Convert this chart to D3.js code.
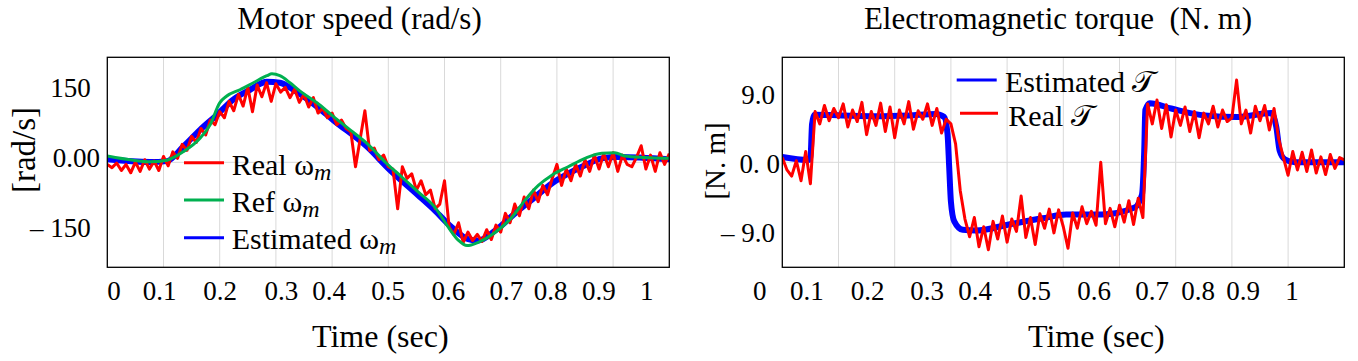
<!DOCTYPE html>
<html>
<head>
<meta charset="utf-8">
<script src="https://cdn.jsdelivr.net/npm/d3@7"></script>
<style>
  body { margin: 0; background: #fff; }
  svg text { font-family: "Liberation Serif", "Times New Roman", serif; fill: #000; white-space: pre; }
</style>
</head>
<body>
<svg id="chart" width="1358" height="361"></svg>
<script>
// ---- data (time is normalised to the plot frame) ----
const xTickLabels = ["0", "0.1", "0.2", "0.3", "0.4", "0.5", "0.6", "0.7", "0.8", "0.9", "1"];
const speedTickAt = [0.011, 0.092, 0.200, 0.309, 0.394, 0.499, 0.606, 0.709, 0.788, 0.874, 0.959];
const torqueTickAt = [-0.041, 0.043, 0.151, 0.257, 0.342, 0.447, 0.554, 0.657, 0.739, 0.819, 0.906];

const speedYTicks = [150, 0, -150];
const speedYLabels = ["150", "0.00", "\u2013 150"];
const torqueYTicks = [9, 0, -9];
const torqueYLabels = ["9.0", "0. 0", "\u2013 9.0"];

// reference speed (green)
const speedRefTime = [0, .046, .076, .106, .135, .165, .183, .2, .212, .236, .26, .284, .293, .307, .325, .343, .373, .402, .432, .462,
  .497, .524, .553, .583, .607, .625, .640, .660, .690, .720, .743, .767, .791, .820, .850, .880, .903, .921, .957, 1];
const speedRef = [3, -6, -9.5, -6, 12, 41, 70, 117, 131, 145, 160, 175, 179, 175, 160, 142, 117, 88, 59, 30,
  -13, -42, -74, -107, -150, -178, -189, -182, -161, -128, -92, -60, -38, -20, -2, 9, 10, 3, 0, -2];

// estimated speed (blue)
const speedEstTime = [0, .076, .106, .135, .165, .195, .224, .254, .284, .307, .331, .373, .402, .462, .503, .553, .583, .613, .642, .660,
  .690, .731, .761, .791, .820, .850, .880, .909, 1];
const speedEst = [-4, -10, -8, 23, 59, 91, 124, 145, 162, 160, 145, 109, 80, 23, -27, -81, -114, -150, -175, -178,
  -157, -114, -85, -56, -35, -17, -2, 1, -4];

// real speed (red), evenly sampled over the frame
const speedReal = [
  -15, -22, -12, -28, -15, -33, -10, -30, -5, -25,
  -8, -28, 2, -18, 12, -2, 28, 15, 45, 32,
  62, 48, 80, 70, 98, 85, 120, 100, 135, 110,
  150, 98, 155, 130, 160, 120, 158, 140, 150, 128,
  146, 118, 135, 108, 128, 95, 105, 85, 95, 70,
  80, 62, 55, -20, 40, 100, 15, 20, -5, 5,
  -20, -25, -110, -20, -45, -35, -70, -50, -80, -70,
  -110, -100, -50, -150, -165, -140, -182, -160, -178, -165,
  -180, -155, -176, -145, -160, -120, -140, -100, -125, -85,
  -110, -70, -95, -60, -80, -45, -15, -60, -25, -50,
  -15, -40, -5, -30, 5, -25, 8, -20, 10, -30,
  5, -15, -20, 0, 25, -25, 5, -30, 10, -15,
  8];

// estimated torque (blue)
const torqueEstTime = [0, .046, .05, .053, .058, .106, .166, .225, .273, .288, .294, .297, .3, .306, .321, .344, .403, .463, .505, .568,
  .627, .64, .644, .646, .654, .692, .752, .811, .87, .879, .885, .894, .912, 1];
const torqueEst = [0.9, 0.5, 0.6, 5.2, 6.4, 6.3, 6.2, 6.3, 6.5, 6.1, 3.9, -0.5, -4.9, -7.5, -8.6, -8.7, -7.9, -7.1, -6.6, -6.6,
  -5.7, -4.0, 1.7, 7.0, 7.9, 7.2, 6.3, 6.1, 6.6, 4.8, 1.7, 0.6, 0.2, 0.2];

// real torque (red), evenly sampled over the frame
const torqueReal = [
  0.8, -0.8, -1.6, 0.4, -2.2, 1.6, -2.6, 6.8, 5.2, 7.6,
  5.6, 7.2, 6.0, 7.8, 4.8, 7.0, 5.5, 8.0, 3.8, 6.8,
  5.0, 7.9, 4.2, 7.4, 3.4, 7.0, 5.2, 8.1, 4.5, 6.9,
  5.8, 7.8, 5.0, 7.2, 4.0, 5.8, 5.2, 2.6, -3.5, -7.2,
  -9.5, -7.0, -10.8, -8.2, -11.2, -7.5, -9.8, -6.8, -10.2, -7.2,
  -8.8, -4.2, -9.6, -7.0, -10.5, -6.5, -8.4, -5.9, -9.0, -6.0,
  -8.2, -11.0, -6.4, -8.4, -5.6, -7.8, -6.2, -8.0, 0.2, -7.8,
  -5.8, -8.2, -5.4, -7.6, -4.8, -7.9, -4.5, -7.0, 7.8, 5.2,
  8.3, 4.6, 7.7, 3.5, 7.0, 5.0, 7.4, 4.2, 6.8, 3.4,
  6.6, 5.2, 7.5, 4.8, 7.0, 5.5, 6.0, 10.9, 5.2, 7.0,
  4.0, 7.5, 5.6, 7.6, 4.4, 7.2, 3.2, 0.8, -1.5, 1.6,
  -0.8, 1.5, -1.0, 1.8, -1.2, 0.9, -1.4, 1.2, -0.6, 0.8,
  0.5];

// ---- layout ----
const svg = d3.select("#chart");
const W = 562, H = 210, TOP = 57.3;
const RED = "#ff0000", BLUE = "#0000ff", GREEN = "#00b050";

function zip(ts, vs) { return ts.map((t, i) => [t, vs[i]]); }
function even(vs) { return vs.map((v, i) => [i / (vs.length - 1), v]); }

function panel(o) {
  const g = svg.append("g").attr("transform", `translate(${o.left},${TOP})`);
  const x = d3.scaleLinear().domain([0, 1]).range([0, W]);
  const y = d3.scaleLinear().domain(o.yDomain).range([H, 0]);

  // grid
  g.append("g").selectAll("line")
    .data(x.ticks(10).slice(1, -1))
    .join("line")
    .attr("x1", d => x(d)).attr("x2", d => x(d))
    .attr("y1", 0).attr("y2", H)
    .attr("stroke", "#d9d9d9").attr("stroke-width", 1);
  const mid = d3.mean(o.yDomain);
  g.append("line")
    .attr("x1", 0).attr("x2", W)
    .attr("y1", y(mid)).attr("y2", y(mid))
    .attr("stroke", "#d9d9d9").attr("stroke-width", 1);

  // series
  const clipId = "clip" + o.id;
  g.append("clipPath").attr("id", clipId)
    .append("rect").attr("width", W).attr("height", H);
  const plot = g.append("g").attr("clip-path", `url(#${clipId})`);
  o.series.forEach(s => {
    const line = d3.line()
      .x(d => x(d[0])).y(d => y(d[1]))
      .curve(s.smooth ? d3.curveMonotoneX : d3.curveLinear);
    plot.append("path")
      .attr("d", line(s.points))
      .attr("fill", "none")
      .attr("stroke", s.color)
      .attr("stroke-width", s.width)
      .attr("stroke-linejoin", "round");
  });

  // frame
  g.append("rect").attr("width", W).attr("height", H)
    .attr("fill", "none").attr("stroke", "#000").attr("stroke-width", 1.3);

  // x axis
  const xa = g.append("g")
    .attr("transform", `translate(0,${H})`)
    .call(d3.axisBottom(x).tickValues(o.xTickAt)
      .tickFormat((d, i) => xTickLabels[i]).tickSize(0).tickPadding(14));
  xa.select(".domain").remove();
  xa.attr("font-family", null).attr("font-size", null);
  xa.selectAll("text").style("font-size", "27px");

  // y axis
  const ya = g.append("g")
    .call(d3.axisLeft(y).tickValues(o.yTicks)
      .tickFormat((d, i) => o.yLabels[i]).tickSize(0));
  ya.select(".domain").remove();
  ya.attr("font-family", null).attr("font-size", null);
  ya.selectAll("text").style("font-size", "27px")
    .attr("x", (d, i) => -o.yPad[i]);

  // titles
  svg.append("text")
    .attr("x", o.titleX).attr("y", 29)
    .attr("text-anchor", "middle").style("font-size", "31px")
    .text(o.title);
  svg.append("text")
    .attr("x", o.left + o.xTitleDx).attr("y", 347)
    .attr("text-anchor", "middle").style("font-size", "32px")
    .text("Time (sec)");
  svg.append("text")
    .attr("transform", `translate(${o.yTitleX},${o.yTitleY}) rotate(-90)`)
    .attr("text-anchor", "middle").style("font-size", o.yTitleSize)
    .text(o.yTitle);

  // legend
  o.legend.forEach(l => {
    g.append("line")
      .attr("x1", l.x1 - o.left).attr("x2", l.x2 - o.left)
      .attr("y1", l.ly - TOP).attr("y2", l.ly - TOP)
      .attr("stroke", l.color).attr("stroke-width", 3);
    const t = g.append("text")
      .attr("x", l.tx - o.left).attr("y", l.ty - TOP)
      .style("font-size", "30px");
    t.append("tspan").text(l.label);
    if (l.sub) {
      t.append("tspan").attr("dy", 5).style("font-style", "italic").style("font-size", "24px").text(l.sub);
    }
  });
}

panel({
  id: "speed", left: 107.3,
  yDomain: [-235.5, 214.5],
  yTicks: speedYTicks, yLabels: speedYLabels, yPad: [16.6, 7.3, 16.6],
  xTickAt: speedTickAt,
  title: "Motor speed (rad/s)", titleX: 359.5,
  xTitleDx: 273, yTitle: "[rad/s]", yTitleX: 35, yTitleY: 150, yTitleSize: "33px",
  series: [
    { points: zip(speedEstTime, speedEst), color: BLUE, width: 6, smooth: true },
    { points: even(speedReal), color: RED, width: 3 },
    { points: zip(speedRefTime, speedRef), color: GREEN, width: 3, smooth: true }
  ],
  legend: [
    { color: RED, x1: 184, x2: 224, ly: 162.7, tx: 231.7, ty: 175, label: "Real \u03c9", sub: "m" },
    { color: GREEN, x1: 184, x2: 224, ly: 200, tx: 231.7, ty: 212.3, label: "Ref \u03c9", sub: "m" },
    { color: BLUE, x1: 184, x2: 224, ly: 237.7, tx: 231.7, ty: 249, label: "Estimated \u03c9", sub: "m" }
  ]
});

panel({
  id: "torque", left: 782.3,
  yDomain: [-13.48, 13.87],
  yTicks: torqueYTicks, yLabels: torqueYLabels, yPad: [7.3, 2.3, 7.3],
  xTickAt: torqueTickAt,
  title: "Electromagnetic torque  (N. m)", titleX: 1058,
  xTitleDx: 314, yTitle: "[N. m]", yTitleX: 725, yTitleY: 161, yTitleSize: "29px",
  series: [
    { points: zip(torqueEstTime, torqueEst), color: BLUE, width: 6, smooth: true },
    { points: even(torqueReal), color: RED, width: 3 }
  ],
  legend: [
    { color: BLUE, x1: 956.7, x2: 996.7, ly: 80, tx: 1005, ty: 91.7, label: "Estimated \ud835\udcaf" },
    { color: RED, x1: 960, x2: 998, ly: 113.3, tx: 1008.3, ty: 126, label: "Real \ud835\udcaf" }
  ]
});
</script>
</body>
</html>
